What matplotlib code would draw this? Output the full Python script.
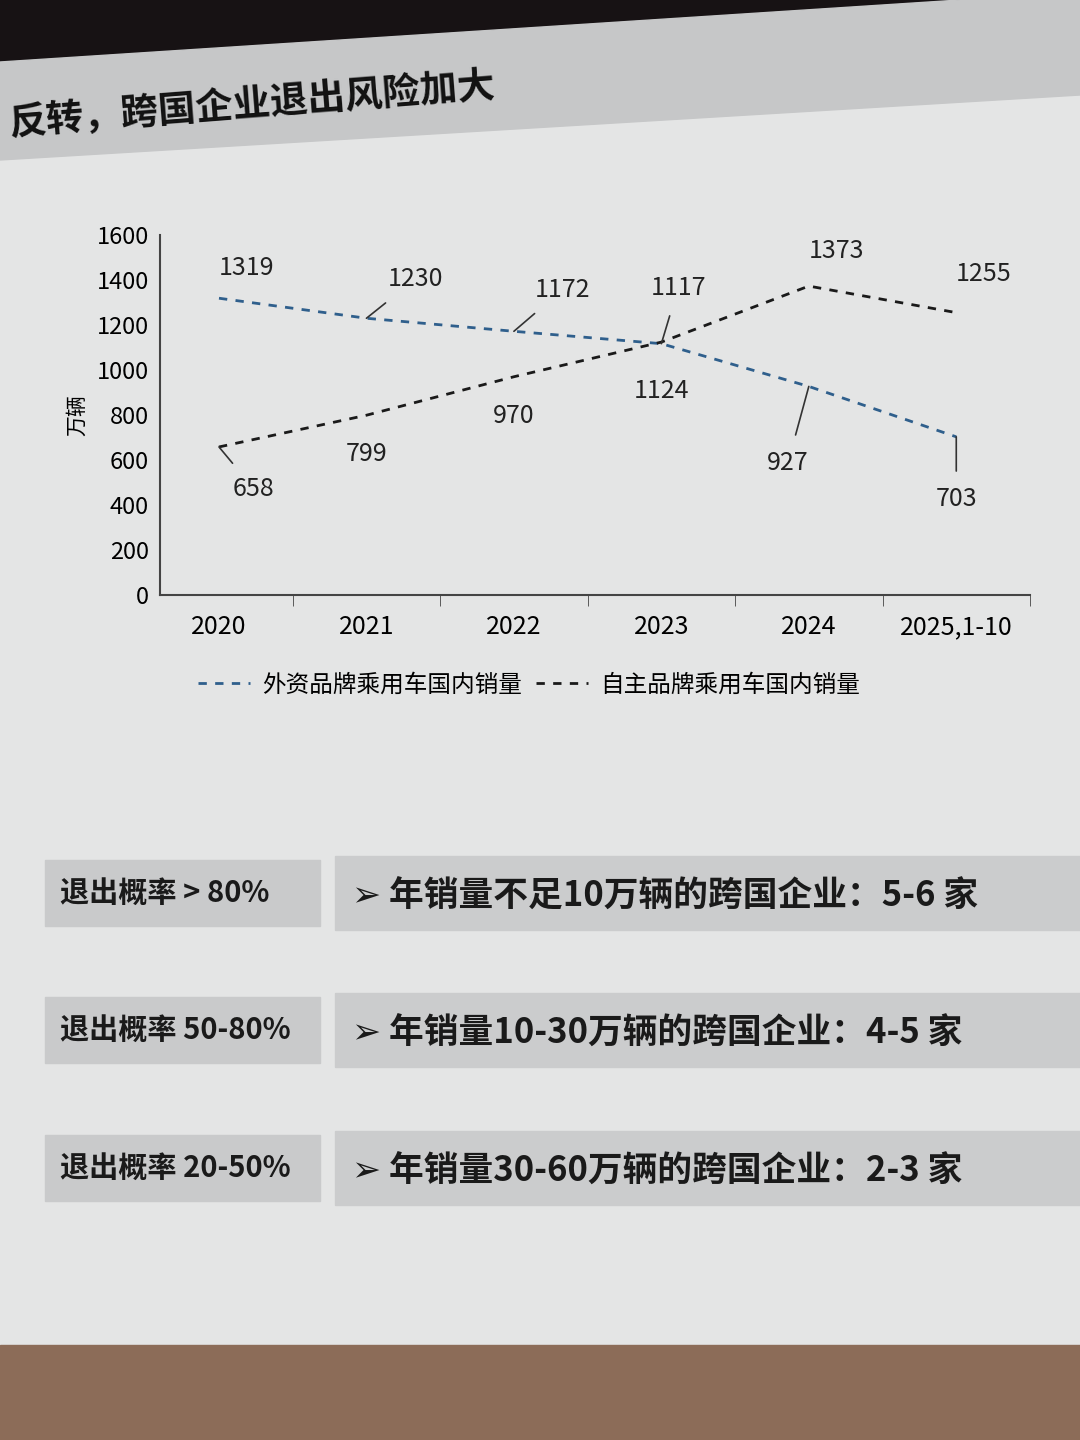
import numpy as np
import matplotlib.pyplot as plt
from matplotlib.patches import Rectangle, Polygon

plt.rcParams['font.family'] = ['Noto Sans CJK SC', 'DejaVu Sans']

# data (万辆)
years = ['2020', '2021', '2022', '2023', '2024', '2025,1-10']
foreign = [1319, 1230, 1172, 1117, 927, 703]
domestic = [658, 799, 970, 1124, 1373, 1255]
yticks = [0, 200, 400, 600, 800, 1000, 1200, 1400, 1600]

title = '反转，跨国企业退出风险加大'
legend_names = ['外资品牌乘用车国内销量', '自主品牌乘用车国内销量']
risk = ['退出概率 > 80%', '退出概率 50-80%', '退出概率 20-50%']
firms = ['➢ 年销量不足10万辆的跨国企业：5-6 家',
         '➢ 年销量10-30万辆的跨国企业：4-5 家',
         '➢ 年销量30-60万辆的跨国企业：2-3 家']

W, H = 1080, 1440
def px(x, y):
    return (x / W, 1 - y / H)

fig = plt.figure(figsize=(10.8, 14.4), dpi=100)
fig.patch.set_facecolor('#e4e5e5')

# dark header + grey title band
fig.add_artist(Polygon([px(0, 0), px(960, 0), px(0, 62)], closed=True,
                       transform=fig.transFigure, color='#171214', zorder=0))
fig.add_artist(Polygon([px(0, 62), px(960, 0), px(1080, 0), px(1080, 95), px(0, 160)],
                       closed=True, transform=fig.transFigure, color='#c6c7c8', zorder=0))
fig.text(*px(8, 105), title, fontsize=27, fontweight='bold', color='#111111',
         va='center', ha='left', rotation=4.5)

# table strip at bottom
fig.add_artist(Rectangle(px(0, 1440), 1, 95 / H, transform=fig.transFigure,
                         color='#8c6c58', zorder=0))

ax = fig.add_axes([160 / W, 1 - 595 / H, 870 / W, 360 / H])
ax.set_facecolor('none')
x = np.arange(len(years))
blue = '#2f5f8c'
ax.plot(x, foreign, color=blue, ls=(0, (3, 3)), lw=2, label=legend_names[0])
ax.plot(x, domestic, color='#1a1a1a', ls=(0, (3, 3)), lw=2, label=legend_names[1])

ax.set_xlim(-0.4, 5.5)
ax.set_ylim(0, 1600)
ax.set_yticks(yticks)
ax.set_xticks(x)
ax.set_xticklabels(years)
ax.set_xticks(np.arange(0.5, 6, 1), minor=True)
ax.tick_params(axis='x', which='major', length=0, pad=14, labelsize=18)
ax.tick_params(axis='x', which='minor', length=8, color='#444444')
ax.tick_params(axis='y', length=0, labelsize=17, pad=8)
for s in ['top', 'right']:
    ax.spines[s].set_visible(False)
for s in ['left', 'bottom']:
    ax.spines[s].set_color('#444444')
    ax.spines[s].set_linewidth(1.5)
ax.set_ylabel('万辆', fontsize=15, labelpad=6)

# data labels: (series, index, dx, dy in points, leader)
f_off = [(20, 22, False), (35, 28, True), (35, 30, True), (12, 40, True), (-15, -55, True), (0, -45, True)]
d_off = [(25, -30, True), (0, -28, False), (0, -28, False), (0, -35, False), (20, 25, False), (20, 28, False)]
for vals, offs in [(foreign, f_off), (domestic, d_off)]:
    for i, v in enumerate(vals):
        dx, dy, lead = offs[i]
        ax.annotate(str(v), (i, v), xytext=(dx, dy), textcoords='offset points',
                    fontsize=18, ha='center', va='center', color='#222222',
                    arrowprops=dict(arrowstyle='-', color='#333333', lw=1.2,
                                    shrinkA=9, shrinkB=0) if lead else None)

fig.legend(loc='center', bbox_to_anchor=(0.49, 1 - 685 / H), ncol=2, frameon=False,
           fontsize=17, handlelength=2.2, columnspacing=0.6, handletextpad=0.5,
           facecolor='none')

# exit-probability rows
rows_y = [893, 1030, 1168]
for i, yc in enumerate(rows_y):
    fig.add_artist(Rectangle(px(45, yc + 33), 275 / W, 66 / H, transform=fig.transFigure,
                             color='#c9cacb', zorder=1))
    fig.add_artist(Rectangle(px(335, yc + 37), 745 / W, 74 / H, transform=fig.transFigure,
                             color='#cbcccd', zorder=1))
    fig.text(*px(60, yc), risk[i], fontsize=21, fontweight='bold', color='#1a1a1a',
             va='center', ha='left', zorder=2)
    fig.text(*px(352, yc + 3), firms[i], fontsize=25, fontweight='bold', color='#1a1a1a',
             va='center', ha='left', zorder=2)

fig.savefig('out.png', dpi=100, facecolor=fig.get_facecolor())
